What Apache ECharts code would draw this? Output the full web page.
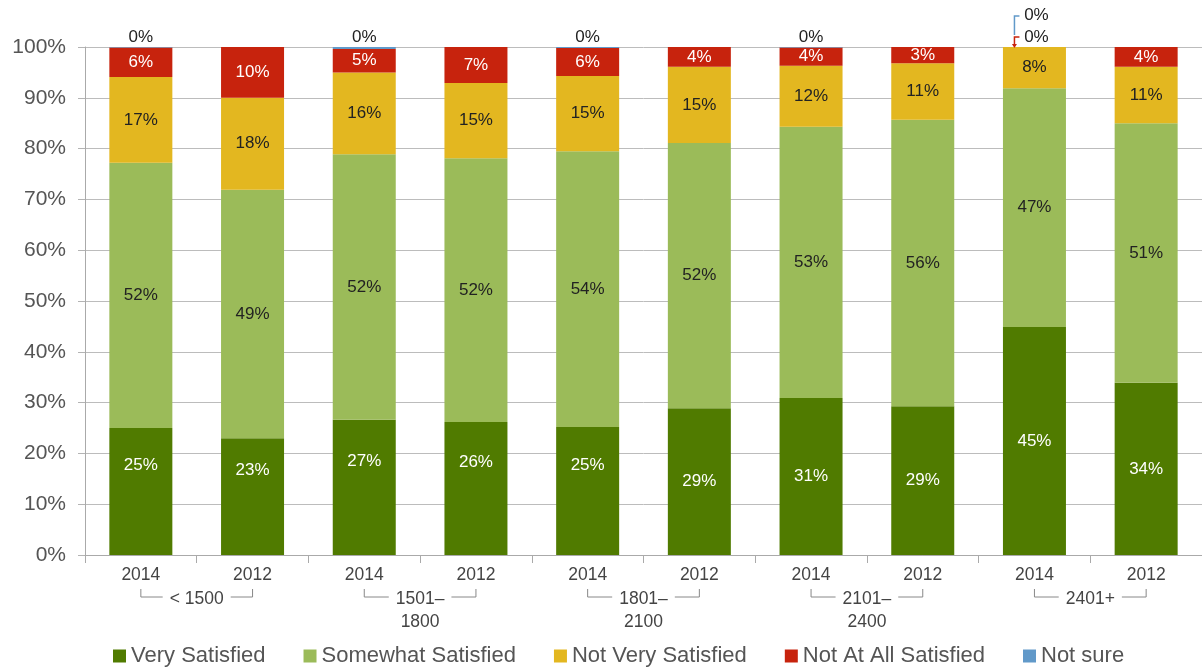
<!DOCTYPE html>
<html lang="en">
<head>
    <meta charset="UTF-8">
    <title>Satisfaction by group</title>
    <script src="https://cdn.jsdelivr.net/npm/echarts@6/dist/echarts.min.js"></script>
    <style>
        html, body { margin: 0; padding: 0; background: #fff; }
        #chart { width: 1202px; height: 669px; }
    </style>
</head>
<body>
    <div id="chart"></div>
    <script>
        // data (percent of respondents)
        var categories = ['2014', '2012', '2014', '2012', '2014', '2012', '2014', '2012', '2014', '2012'];
        var groups = ['< 1500', '1501–\n1800', '1801–\n2100', '2101–\n2400', '2401+'];
        var yTicks = [0, 10, 20, 30, 40, 50, 60, 70, 80, 90, 100];

        var verySatisfied     = [25.0, 23.0, 26.6, 26.2, 25.2, 28.9, 30.9, 29.3, 44.9, 33.9];
        var somewhatSatisfied = [52.2, 48.9, 52.3, 51.9, 54.3, 52.2, 53.4, 56.4, 47.0, 51.1];
        var notVerySatisfied  = [16.9, 18.1, 16.1, 14.8, 14.8, 15.0, 12.0, 11.1, 8.1, 11.1];
        var notAtAllSatisfied = [5.8, 10.0, 4.6, 7.1, 5.5, 3.9, 3.6, 3.2, 0, 3.9];
        var notSure           = [0.1, null, 0.4, null, 0.2, null, 0.1, null, 0, null];

        var FONT = '"Liberation Sans", Arial, sans-serif';
        var colors = ['#507b00', '#9bbb59', '#e3b720', '#c7230d', '#6199c9'];

        var chart = echarts.init(document.getElementById('chart'));

        function pct(p) { return Math.round(p.value) + '%'; }

        function baseLabel(color) {
            return { show: true, position: 'inside', color: color, fontSize: 17, fontFamily: FONT, formatter: pct };
        }

        var series = [
            {
                name: 'Very Satisfied',
                data: verySatisfied.map(function (v, i) {
                    // the first five labels sit higher than centre in the original
                    return i < 5 ? { value: v, label: { offset: [0, -26] } } : v;
                }),
                label: baseLabel('#fff')
            },
            { name: 'Somewhat Satisfied', data: somewhatSatisfied, label: baseLabel('#222') },
            { name: 'Not Very Satisfied', data: notVerySatisfied, label: baseLabel('#222') },
            {
                name: 'Not At All Satisfied',
                data: notAtAllSatisfied.map(function (v, i) {
                    return v === 0 ? { value: v, label: { position: 'top', color: '#222', distance: 1, offset: [2, 0] } } : v;
                }),
                label: baseLabel('#fff')
            },
            {
                name: 'Not sure',
                data: notSure.map(function (v, i) {
                    return i === 8 ? { value: v, label: { offset: [2, -22] } } : v;
                }),
                label: { show: true, position: 'top', distance: 1, color: '#222', fontSize: 17, fontFamily: FONT, formatter: pct }
            }
        ].map(function (s, i) {
            s.type = 'bar';
            s.stack = 'all';
            s.barWidth = 63;
            s.itemStyle = { color: colors[i] };
            return s;
        });

        var option = {
            animation: false,
            textStyle: { fontFamily: FONT },
            grid: { left: 85, top: 47, width: 1123, height: 508 },
            legend: {
                top: 640,
                left: 108,
                itemWidth: 13,
                itemHeight: 13,
                itemGap: 38,
                icon: 'rect',
                textStyle: { fontSize: 22, color: '#555', fontFamily: FONT },
                data: series.map(function (s) { return s.name; })
            },
            xAxis: [
                {
                    type: 'category',
                    data: categories,
                    z: 5,
                    axisLine: { lineStyle: { color: '#aaa' } },
                    axisTick: { show: true, length: 8, lineStyle: { color: '#aaa' } },
                    axisLabel: { fontSize: 17.5, color: '#444', margin: 11, fontFamily: FONT }
                },
                {
                    type: 'category',
                    data: groups,
                    position: 'bottom',
                    offset: 22,
                    z: 10,
                    axisLine: { show: false },
                    axisTick: { show: false },
                    axisLabel: {
                        fontSize: 17.5, color: '#444', margin: 11, lineHeight: 23,
                        backgroundColor: '#fff', padding: [0, 7], fontFamily: FONT
                    }
                }
            ],
            yAxis: {
                type: 'value',
                min: yTicks[0],
                max: yTicks[yTicks.length - 1],
                interval: 10,
                axisLine: { show: true, lineStyle: { color: '#aaa' } },
                axisTick: { show: true, length: 7, lineStyle: { color: '#b4b4b4' } },
                splitLine: { lineStyle: { color: '#bcbcbc' } },
                axisLabel: { fontSize: 21, color: '#555', margin: 19, formatter: '{value}%', fontFamily: FONT }
            },
            series: series
        };

        chart.setOption(option);

        // brackets under each pair of years, and the leader lines on the 2401+ 2014 bar
        var graphics = [];
        var yLine = 597;
        for (var g = 0; g < groups.length; g++) {
            var x1 = chart.convertToPixel({ gridIndex: 0 }, [2 * g, 0])[0];
            var x2 = chart.convertToPixel({ gridIndex: 0 }, [2 * g + 1, 0])[0];
            graphics.push({
                type: 'polyline',
                z: 1,
                shape: { points: [[x1, yLine - 8], [x1, yLine], [x2, yLine], [x2, yLine - 8]] },
                style: { stroke: '#888', lineWidth: 1, fill: null }
            });
        }
        var top9 = chart.convertToPixel({ gridIndex: 0 }, [8, 100]);
        var lx = top9[0] - 20;
        graphics.push({
            type: 'polyline', z: 20,
            shape: { points: [[lx + 5, top9[1] - 10], [lx, top9[1] - 10], [lx, top9[1] - 1]] },
            style: { stroke: colors[3], lineWidth: 1.5, fill: null }
        });
        graphics.push({
            type: 'polygon', z: 20,
            shape: { points: [[lx - 2.5, top9[1] - 3], [lx + 2.5, top9[1] - 3], [lx, top9[1] + 1]] },
            style: { fill: colors[3] }
        });
        graphics.push({
            type: 'polyline', z: 20,
            shape: { points: [[lx + 5, top9[1] - 31], [lx, top9[1] - 31], [lx, top9[1] - 12]] },
            style: { stroke: colors[4], lineWidth: 1.5, fill: null }
        });
        chart.setOption({ graphic: graphics });
    </script>
</body>
</html>
